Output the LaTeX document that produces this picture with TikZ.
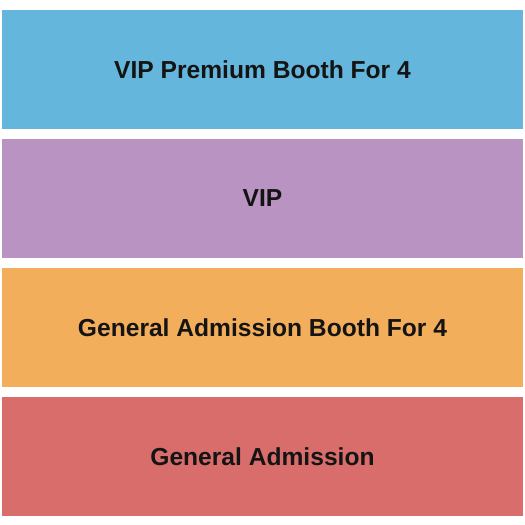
\documentclass[tikz,border=0pt]{standalone}
\usepackage{fontspec}
\setmainfont{Liberation Sans}
\definecolor{cblue}{RGB}{100,182,220}
\definecolor{cpurple}{RGB}{185,147,193}
\definecolor{corange}{RGB}{243,174,91}
\definecolor{cred}{RGB}{217,109,108}
\definecolor{ctext}{RGB}{20,20,20}
\tikzset{
  band/.style={draw=none, inner sep=0pt, minimum width=521pt, minimum height=118.6pt, text=ctext, font=\fontsize{24.6}{28}\selectfont\bfseries}
}
\begin{document}
\begin{tikzpicture}[x=1pt,y=-1pt]
\useasboundingbox (0,0) rectangle (525,525);
\node[band, fill=cblue] (vipp) at (262.5,69.3) {VIP Premium Booth For 4};
\node[band, fill=cpurple] (vip) at (262.5,198.3) {VIP};
\node[band, fill=corange] (gab) at (262.5,327.3) {General Admission Booth For 4};
\node[band, fill=cred] (ga) at (262.5,456.3) {General Admission};
\end{tikzpicture}
\end{document}
